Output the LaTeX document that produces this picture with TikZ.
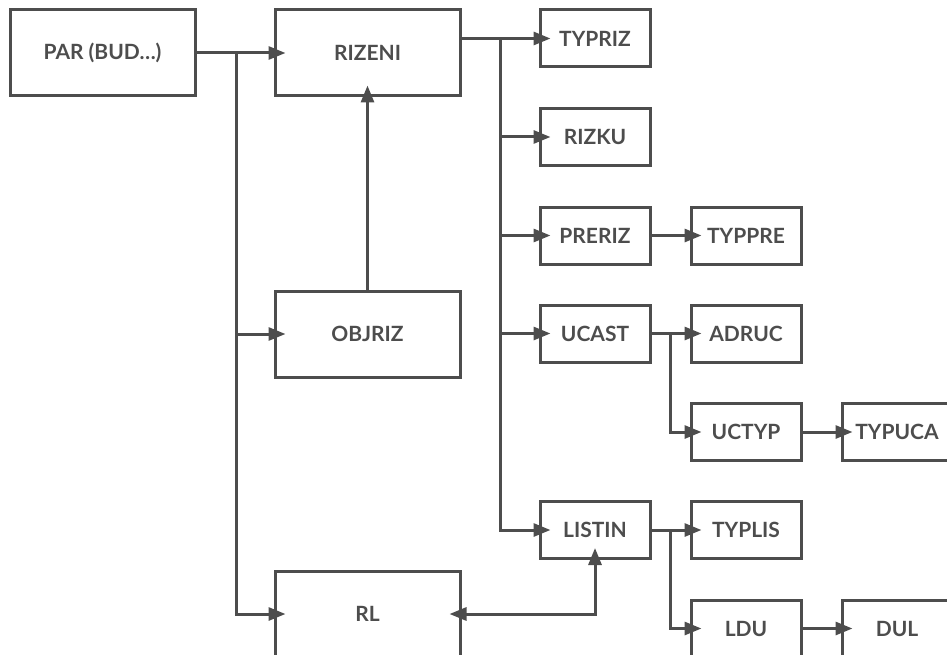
\documentclass[tikz,border=0pt]{standalone}
\usepackage{fontspec}
\setmainfont{Lato}
\usetikzlibrary{arrows.meta}
\definecolor{linegray}{HTML}{4D4D4D}

\begin{document}
\begin{tikzpicture}[x=1pt, y=-1pt, line width=3pt, draw=linegray,
    bigbox/.style={draw, minimum width=185pt, minimum height=86pt, inner sep=0pt,
      text=linegray, font=\fontsize{21}{24}\selectfont\bfseries},
    smallbox/.style={draw, minimum width=110pt, minimum height=57pt, inner sep=0pt,
      text=linegray, font=\fontsize{21}{24}\selectfont\bfseries},
    arr/.style={-{Triangle[length=17pt, width=13pt]}, linegray, shorten >=-12pt},
    darr/.style={{Triangle[length=17pt, width=13pt]}-{Triangle[length=17pt, width=13pt]},
      linegray, shorten >=-12pt, shorten <=-12pt}]
  \clip (0,0) rectangle (947,655);

  % left column
  \node[bigbox] (PAR)    at (102.5, 53) {PAR (BUD\ldots)};
  \node[bigbox] (RIZENI) at (367.5, 53) {RIZENI};
  \node[bigbox] (OBJRIZ) at (367.5, 334) {OBJRIZ};
  \node[bigbox] (RL)     at (367.5, 614) {RL};

  % second column
  \node[smallbox] (TYPRIZ) at (595, 38.5)  {TYPRIZ};
  \node[smallbox] (RIZKU)  at (595, 137)   {RIZKU};
  \node[smallbox] (PRERIZ) at (595, 235.5) {PRERIZ};
  \node[smallbox] (UCAST)  at (595, 333.5) {UCAST};
  \node[smallbox] (LISTIN) at (595, 530)   {LISTIN};

  % third and fourth column
  \node[smallbox] (TYPPRE) at (746, 235.5) {TYPPRE};
  \node[smallbox] (ADRUC)  at (746, 333.5) {ADRUC};
  \node[smallbox] (UCTYP)  at (746, 432)   {UCTYP};
  \node[smallbox] (TYPLIS) at (746, 530)   {TYPLIS};
  \node[smallbox] (LDU)    at (746, 628.5) {LDU};
  \node[smallbox] (TYPUCA) at (897, 432)   {TYPUCA};
  \node[smallbox] (DUL)    at (897, 628.5) {DUL};

  % bus points
  \coordinate (pbus) at (236, 53);
  \coordinate (rbus) at (500, 38.5);
  \coordinate (ubus) at (670, 333.5);
  \coordinate (lbus) at (670, 530);

  \draw[arr] (PAR.east) -- (RIZENI.west);
  \draw[arr] (pbus) |- (OBJRIZ.west);
  \draw[arr] (pbus) |- (RL.west);
  \draw[arr] (OBJRIZ.north) -- (RIZENI.south);

  \draw[arr] (RIZENI.east |- TYPRIZ.west) -- (TYPRIZ.west);
  \draw[arr] (rbus) |- (RIZKU.west);
  \draw[arr] (rbus) |- (PRERIZ.west);
  \draw[arr] (rbus) |- (UCAST.west);
  \draw[arr] (rbus) |- (LISTIN.west);

  \draw[arr] (PRERIZ.east) -- (TYPPRE.west);
  \draw[arr] (UCAST.east) -- (ADRUC.west);
  \draw[arr] (ubus) |- (UCTYP.west);
  \draw[arr] (UCTYP.east) -- (TYPUCA.west);
  \draw[arr] (LISTIN.east) -- (TYPLIS.west);
  \draw[arr] (lbus) |- (LDU.west);
  \draw[arr] (LDU.east) -- (DUL.west);

  \draw[darr] (RL.east) -| (LISTIN.south);
\end{tikzpicture}
\end{document}
